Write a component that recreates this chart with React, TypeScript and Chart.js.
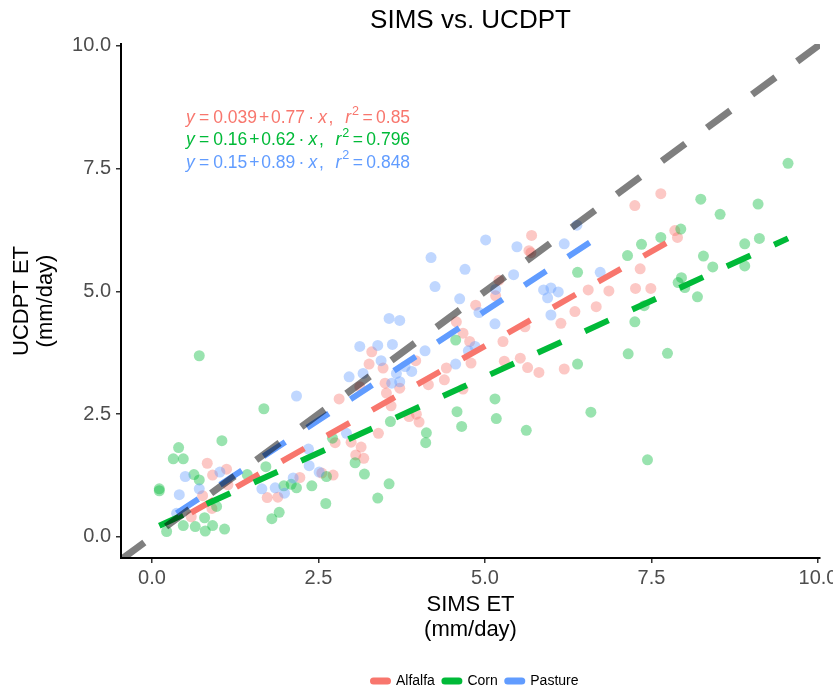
import React, { useEffect, useRef } from "react";
import { Chart, registerables } from "chart.js";

Chart.register(...registerables);

const FONT = '"Liberation Sans", Arial, sans-serif';

const groupNames = ["Alfalfa", "Corn", "Pasture"];
const groupColors = ["#F8766D", "#00BA38", "#619CFF"];
const groupFills = ["rgba(248,118,109,0.4)", "rgba(0,186,56,0.4)", "rgba(97,156,255,0.4)"];

const alfalfaPoints: [number, number][] = [
  [0.83, 1.5], [0.91, 1.26], [1.12, 1.38], [0.76, 0.84], [0.59, 0.41], [0.9, 0.58],
  [1.73, 0.8], [1.89, 0.81], [2.22, 1.21], [2.55, 1.3], [2.72, 1.26], [2.81, 2.81],
  [2.99, 1.93], [3.06, 1.67], [2.75, 1.92], [3.3, 3.77], [3.26, 3.52], [3.47, 3.44],
  [3.12, 3.06], [3.5, 3.13], [3.52, 2.93], [3.72, 3.03], [3.59, 2.67], [3.96, 3.59],
  [4.15, 3.1], [4.39, 3.2], [4.42, 3.44], [4.77, 3.98], [4.79, 3.54], [5.27, 3.98],
  [5.29, 3.58], [5.53, 3.64], [5.64, 3.45], [5.81, 3.35], [6.19, 3.42], [3.86, 2.45],
  [3.97, 2.5], [4.01, 2.34], [3.4, 2.11], [3.14, 1.83], [3.18, 1.6], [4.67, 3.01],
  [5.7, 6.14], [5.66, 5.83], [5.69, 5.79], [5.21, 5.23], [5.16, 4.91], [4.86, 4.72],
  [4.57, 4.38], [4.67, 4.15], [5.6, 4.28], [6.14, 4.35], [6.35, 4.59], [6.67, 4.69],
  [6.86, 5.01], [6.55, 5.03], [7.64, 6.99], [7.25, 6.75], [7.85, 6.24], [7.89, 6.1],
  [7.33, 5.46], [7.26, 5.06], [7.49, 5.06], [1.14, 1.06],
];

const cornPoints: [number, number][] = [
  [0.71, 3.69], [1.68, 2.61], [1.05, 1.96], [0.4, 1.82], [0.32, 1.59], [0.47, 1.59],
  [0.11, 0.98], [0.11, 0.94], [0.63, 1.27], [0.71, 1.16], [1.71, 1.43], [1.43, 1.27],
  [0.22, 0.11], [0.47, 0.23], [0.65, 0.21], [0.79, 0.39], [0.8, 0.12], [0.91, 0.23],
  [1.09, 0.16], [0.97, 0.62], [1.8, 0.37], [1.91, 0.5], [2.4, 1.04], [2.61, 0.68],
  [1.98, 1.04], [2.09, 1.07], [2.17, 1.0], [2.71, 2.01], [2.62, 1.23], [3.05, 1.51],
  [3.58, 2.35], [4.12, 2.12], [4.11, 1.92], [4.58, 2.55], [4.65, 2.25], [5.15, 2.81],
  [5.17, 2.41], [5.62, 2.17], [6.39, 3.52], [6.59, 2.54], [3.19, 1.28], [3.56, 1.08],
  [3.39, 0.79], [4.56, 4.01], [6.39, 5.39], [9.55, 7.61], [8.24, 6.88], [9.1, 6.78],
  [8.53, 6.57], [7.94, 6.27], [7.64, 6.1], [7.35, 5.96], [7.14, 5.73], [8.9, 5.97],
  [9.12, 6.08], [8.28, 5.72], [8.9, 5.52], [8.42, 5.5], [7.95, 5.28], [7.9, 5.18],
  [8.0, 5.08], [8.19, 4.89], [7.39, 4.71], [7.25, 4.38], [7.15, 3.73], [7.74, 3.74],
  [7.44, 1.57],
];

const pasturePoints: [number, number][] = [
  [0.5, 1.23], [0.71, 0.98], [0.41, 0.86], [1.02, 1.32], [0.37, 0.48], [1.65, 0.98],
  [1.85, 1.0], [1.99, 0.89], [2.12, 1.2], [2.36, 1.45], [2.51, 1.32], [2.17, 2.87],
  [2.35, 1.79], [2.96, 3.26], [2.92, 2.11], [3.12, 3.88], [3.39, 3.9], [3.61, 3.92],
  [3.44, 3.59], [3.17, 3.33], [3.67, 3.33], [3.9, 3.37], [3.8, 3.47], [3.6, 3.13],
  [3.72, 3.16], [4.1, 3.79], [4.56, 3.52], [4.75, 3.79], [4.85, 3.88], [5.01, 6.05],
  [4.19, 5.69], [4.7, 5.45], [4.25, 5.1], [5.48, 5.91], [4.62, 4.85], [5.16, 5.04],
  [5.43, 5.34], [4.91, 4.57], [5.15, 4.34], [3.56, 4.45], [3.72, 4.41], [5.88, 5.03],
  [5.99, 5.07], [5.94, 4.87], [6.1, 4.99], [5.99, 4.52], [6.19, 5.97], [6.38, 6.35],
  [6.73, 5.39],
];

const groupPoints = [alfalfaPoints, cornPoints, pasturePoints];

const fitIntercepts = [0.039, 0.16, 0.15];
const fitSlopes = [0.77, 0.62, 0.89];
const interceptLabels = ["0.039", "0.16", "0.15"];
const slopeLabels = ["0.77", "0.62", "0.89"];
const r2Labels = ["0.85", "0.796", "0.848"];

const xTicks = [0, 2.5, 5, 7.5, 10];
const yTicks = [0, 2.5, 5, 7.5, 10];
const X_MIN = -0.465;
const X_MAX = 10.03;
const Y_MIN = -0.43;
const Y_MAX = 10.04;

const titleText = "SIMS vs. UCDPT";
const xTitle = ["SIMS ET", "(mm/day)"];
const yTitle = ["UCDPT ET", "(mm/day)"];

type Part = { t: string; it?: boolean; sup?: boolean; gap: number };

function eqParts(i: number): Part[] {
  return [
    { t: "y", it: true, gap: 0 },
    { t: "=", gap: 4.3 },
    { t: interceptLabels[i], gap: 4 },
    { t: "+", gap: 2 },
    { t: slopeLabels[i], gap: 1.7 },
    { t: "·", gap: 3.3 },
    { t: "x", it: true, gap: 4 },
    { t: ",", gap: 1.7 },
    { t: "r", it: true, gap: 11.7 },
    { t: "2", sup: true, gap: 1 },
    { t: "=", gap: 3.4 },
    { t: r2Labels[i], gap: 3.4 },
  ];
}

const textPlugin = {
  id: "customTexts",
  afterDraw(chart: any) {
    const ctx: CanvasRenderingContext2D = chart.ctx;
    const a = chart.chartArea;
    const cx = (a.left + a.right) / 2;
    const cy = (a.top + a.bottom) / 2;
    ctx.save();
    ctx.fillStyle = "#000";
    ctx.textAlign = "center";
    ctx.textBaseline = "middle";
    ctx.font = `26px ${FONT}`;
    ctx.fillText(titleText, cx, 21);
    ctx.font = `22px ${FONT}`;
    ctx.fillText(xTitle[0], cx, 605);
    ctx.fillText(xTitle[1], cx, 630);
    ctx.save();
    ctx.translate(22, cy);
    ctx.rotate(-Math.PI / 2);
    ctx.fillText(yTitle[0], 0, 0);
    ctx.restore();
    ctx.save();
    ctx.translate(46, cy);
    ctx.rotate(-Math.PI / 2);
    ctx.fillText(yTitle[1], 0, 0);
    ctx.restore();

    // equations
    const eqSize = 17.5;
    const lineYs = [118.5, 140.5, 163];
    ctx.textAlign = "left";
    ctx.textBaseline = "middle";
    for (let i = 0; i < 3; i++) {
      let x = 186;
      ctx.fillStyle = groupColors[i];
      for (const p of eqParts(i)) {
        x += p.gap;
        let y = lineYs[i];
        if (p.sup) {
          ctx.font = `${eqSize * 0.72}px ${FONT}`;
          y -= 7;
        } else if (p.it) {
          ctx.font = `italic ${eqSize}px ${FONT}`;
        } else {
          ctx.font = `${eqSize}px ${FONT}`;
        }
        ctx.fillText(p.t, x, y);
        x += ctx.measureText(p.t).width;
      }
    }

    // legend
    ctx.font = `14px ${FONT}`;
    const keyW = 20;
    const keyH = 7;
    const gapKT = 5.5;
    const gapItem = 7;
    let total = 0;
    const widths = groupNames.map((n) => ctx.measureText(n).width);
    widths.forEach((w, i) => {
      total += keyW + gapKT + w + (i < widths.length - 1 ? gapItem : 0);
    });
    let lx = 474.5 - total / 2;
    const ly = 681;
    groupNames.forEach((n, i) => {
      ctx.fillStyle = groupColors[i];
      ctx.beginPath();
      const r = 3;
      ctx.moveTo(lx + r, ly - keyH / 2);
      ctx.lineTo(lx + keyW - r, ly - keyH / 2);
      ctx.arc(lx + keyW - r, ly, keyH / 2, -Math.PI / 2, Math.PI / 2);
      ctx.lineTo(lx + r, ly + keyH / 2);
      ctx.arc(lx + r, ly, keyH / 2, Math.PI / 2, (3 * Math.PI) / 2);
      ctx.closePath();
      ctx.fill();
      lx += keyW + gapKT;
      ctx.fillStyle = "#000";
      ctx.fillText(n, lx, ly);
      lx += widths[i] + gapItem;
    });
    ctx.restore();
  },
};

export default function App() {
  const ref = useRef<HTMLCanvasElement | null>(null);

  useEffect(() => {
    if (!ref.current) return;
    const pointSets = groupPoints.map((pts, i) => ({
      type: "scatter" as const,
      label: groupNames[i],
      data: pts.map(([x, y]) => ({ x, y })),
      backgroundColor: groupFills[i],
      borderWidth: 0,
      pointRadius: 5.5,
      pointHoverRadius: 5.5,
      order: 10 - i,
    }));
    const fitSets = groupPoints.map((pts, i) => {
      const xs = pts.map((p) => p[0]);
      const lo = Math.min(...xs);
      const hi = Math.max(...xs);
      return {
        type: "line" as const,
        label: groupNames[i] + " fit",
        data: [
          { x: lo, y: fitIntercepts[i] + fitSlopes[i] * lo },
          { x: hi, y: fitIntercepts[i] + fitSlopes[i] * hi },
        ],
        borderColor: groupColors[i],
        borderWidth: 6,
        borderDash: [26, 26],
        borderCapStyle: "butt" as const,
        pointRadius: 0,
        showLine: true,
        fill: false,
        tension: 0,
        order: 5 - i,
      };
    });
    const identity = {
      type: "line" as const,
      label: "1:1",
      data: [
        { x: X_MIN, y: X_MIN },
        { x: X_MAX, y: X_MAX },
      ],
      borderColor: "rgba(0,0,0,0.5)",
      borderWidth: 7,
      borderDash: [29, 27],
      borderCapStyle: "butt" as const,
      pointRadius: 0,
      showLine: true,
      fill: false,
      clip: 0,
      order: 0,
    };

    const tickFont = { family: FONT, size: 20 };
    const chart = new Chart(ref.current, {
      type: "scatter",
      data: { datasets: [...pointSets, ...fitSets, identity] as any },
      plugins: [textPlugin],
      options: {
        animation: false,
        responsive: false,
        devicePixelRatio: 1,
        layout: { padding: { top: 44, right: 13, left: 0, bottom: 0 } },
        plugins: {
          legend: { display: false },
          tooltip: { enabled: false },
          title: { display: false },
        },
        scales: {
          x: {
            type: "linear",
            min: X_MIN,
            max: X_MAX,
            afterBuildTicks: (s: any) => {
              s.ticks = xTicks.map((v) => ({ value: v }));
            },
            afterFit: (s: any) => {
              s.height = 132;
              s.paddingLeft = 0;
              s.paddingRight = 0;
            },
            ticks: {
              callback: (v: any) => Number(v).toFixed(1),
              color: "#4D4D4D",
              font: tickFont,
              padding: 3,
              maxRotation: 0,
              autoSkip: false,
            },
            grid: {
              display: true,
              drawOnChartArea: false,
              drawTicks: true,
              tickLength: 5,
              color: "#333333",
              lineWidth: 1.5,
            },
            border: { display: true, color: "#000", width: 2 },
          },
          y: {
            type: "linear",
            min: Y_MIN,
            max: Y_MAX,
            afterBuildTicks: (s: any) => {
              s.ticks = yTicks.map((v) => ({ value: v }));
            },
            afterFit: (s: any) => {
              s.width = 121;
              s.paddingTop = 0;
              s.paddingBottom = 0;
            },
            ticks: {
              callback: (v: any) => Number(v).toFixed(1),
              color: "#4D4D4D",
              font: tickFont,
              padding: 5,
              autoSkip: false,
            },
            grid: {
              display: true,
              drawOnChartArea: false,
              drawTicks: true,
              tickLength: 5,
              color: "#333333",
              lineWidth: 1.5,
            },
            border: { display: true, color: "#000", width: 2 },
          },
        },
      } as any,
    });
    return () => chart.destroy();
  }, []);

  return (
    <div style={{ position: "absolute", left: 0, top: 0, width: 833, height: 690, background: "#fff" }}>
      <canvas ref={ref} width={833} height={690} style={{ display: "block", width: 833, height: 690 }} />
    </div>
  );
}
